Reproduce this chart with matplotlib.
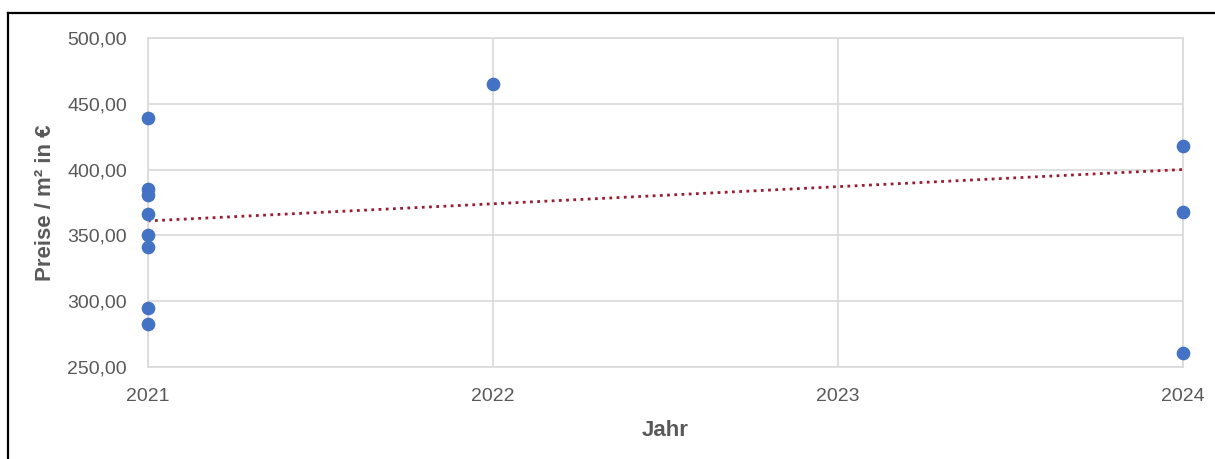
import matplotlib
matplotlib.use('Agg')
import matplotlib.pyplot as plt
from matplotlib.lines import Line2D
from matplotlib.ticker import FuncFormatter

# data
years = [2021, 2021, 2021, 2021, 2021, 2021, 2021, 2021, 2022, 2024, 2024, 2024]
prices = [439, 385, 381, 366, 350, 341, 295, 283, 465, 418, 368, 261]
trend_years = [2021, 2024]
trend_values = [361, 400]
x_ticks = [2021, 2022, 2023, 2024]
y_ticks = [250, 300, 350, 400, 450, 500]

plt.rcParams['font.family'] = ['Liberation Sans', 'DejaVu Sans']

grid_col = '#d9d9d9'
text_col = '#595959'

fig = plt.figure(figsize=(12.15, 4.59), dpi=100)
ax = fig.add_axes([0.1216, 0.1998, 0.8518, 0.7181])

ax.set_xlim(2021, 2024)
ax.set_ylim(250, 500)
ax.set_xticks(x_ticks)
ax.set_yticks(y_ticks)
ax.yaxis.set_major_formatter(FuncFormatter(lambda v, p: f"{v:.2f}".replace('.', ',')))
ax.grid(True, color=grid_col, linewidth=1.2)
ax.set_axisbelow(True)
for s in ax.spines.values():
    s.set_color(grid_col)
    s.set_linewidth(1.2)
ax.tick_params(length=0, labelsize=14, labelcolor=text_col)
ax.tick_params(axis='x', pad=15)
ax.tick_params(axis='y', pad=15)

ax.plot(trend_years, trend_values, color='#9b1c31', linewidth=2.0,
        linestyle=(0, (1, 1.6)), zorder=2)
ax.scatter(years, prices, s=78, color='#4472c4', zorder=3, clip_on=False)

ax.set_xlabel('Jahr', fontsize=16, fontweight='bold', color=text_col, labelpad=11)
ax.set_ylabel('Preise / m² in €', fontsize=16, fontweight='bold', color=text_col, labelpad=8)

# black frame (cropped at right and bottom)
fig.add_artist(Line2D([8 / 1215, 1.0], [1 - 13 / 459, 1 - 13 / 459],
                      transform=fig.transFigure, color='black', linewidth=1.6))
fig.add_artist(Line2D([8 / 1215, 8 / 1215], [0.0, 1 - 13 / 459],
                      transform=fig.transFigure, color='black', linewidth=1.6))

fig.savefig('out.png', dpi=100)
